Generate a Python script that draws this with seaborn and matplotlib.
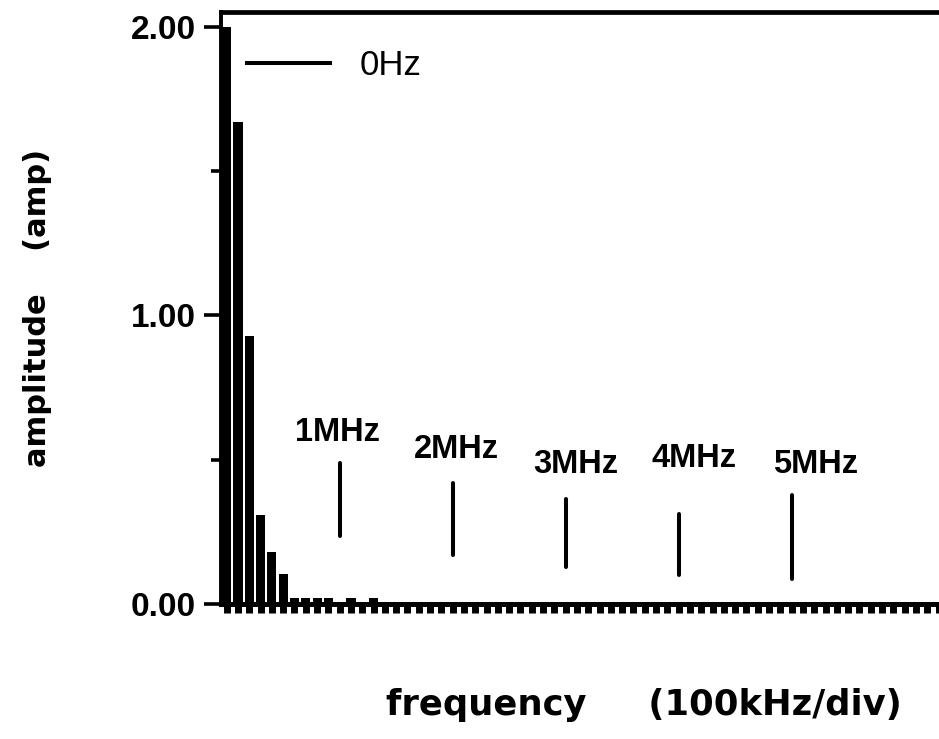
import numpy as np
import pandas as pd
import matplotlib
matplotlib.use("Agg")
import matplotlib.pyplot as plt
import seaborn as sns
from matplotlib.lines import Line2D

# ---------------- data ----------------
freq_div = [0, 1, 2, 3, 4, 5, 6, 7, 8, 9, 10, 11, 12, 13]          # 100 kHz / div
amplitude = [2.00, 1.67, 0.93, 0.31, 0.18, 0.105, 0.02, 0.02, 0.02, 0.02,
             0.0, 0.02, 0.0, 0.02]
marker_freq_div = [10, 20, 30, 40, 50]
marker_labels = ["1MHz", "2MHz", "3MHz", "4MHz", "5MHz"]
marker_low = [0.236, 0.170, 0.128, 0.100, 0.087]
marker_high = [0.489, 0.419, 0.364, 0.312, 0.378]
ytick_values = [0.0, 1.0, 2.0]
ytick_labels = ["0.00", "1.00", "2.00"]
yminor_values = [0.5, 1.5]
legend_label = "0Hz"
xlabel_text = "frequency     (100kHz/div)"
ylabel_text = "amplitude    (amp)"

# ---------------- layout ----------------
label_offsets = [(-0.23, 0.104), (0.3, 0.118), (0.9, 0.121), (1.35, 0.191), (2.1, 0.107)]
XLIM = (-0.5, 63.04)
YLIM = (0.0, 2.052)

df = pd.DataFrame({"freq": freq_div, "amp": amplitude})

fig = plt.figure(figsize=(9.39, 7.39), dpi=100)
ax = fig.add_axes([0.2354, 0.1827, 0.7646, 0.8011])

sns.barplot(data=df, x="freq", y="amp", native_scale=True, color="black",
            saturation=1, width=0.8, errorbar=None, linewidth=0, ax=ax)

ax.vlines(marker_freq_div, marker_low, marker_high, colors="black",
          linewidth=2.9, capstyle="round")

for xm, yh, lab, (dx, dy) in zip(marker_freq_div, marker_high, marker_labels, label_offsets):
    ax.text(xm + dx, yh + dy, lab, ha="center", va="center",
            fontsize=23.5, fontweight="bold", family="Liberation Sans", color="black")

handle = Line2D([], [], color="black", linewidth=2.9)
leg = ax.legend([handle], [legend_label], loc="center left",
                bbox_to_anchor=(0.0362, 0.910), frameon=False,
                borderpad=0, borderaxespad=0, handlelength=2.4,
                handletextpad=0.85,
                prop={"family": "Liberation Sans", "size": 25})

ax.set_xlim(*XLIM)
ax.set_ylim(*YLIM)

ax.set_xticks(np.arange(0, 64))
ax.set_xticklabels([])
ax.set_yticks(ytick_values)
ax.set_yticklabels(ytick_labels)
ax.set_yticks(yminor_values, minor=True)

ax.tick_params(axis="x", which="major", direction="out", length=6.5, width=5.0,
               color="black")
ax.tick_params(axis="y", which="major", direction="out", length=12, width=2.6,
               pad=6, color="black")
ax.tick_params(axis="y", which="minor", direction="out", length=7, width=2.6,
               color="black")
for t in ax.get_yticklabels():
    t.set_fontfamily("Liberation Sans")
    t.set_fontweight("bold")
    t.set_fontsize(24)

ax.spines["right"].set_visible(False)
ax.spines["left"].set_linewidth(2.8)
ax.spines["bottom"].set_linewidth(3.6)
ax.spines["top"].set_linewidth(3.4)

ax.set_xlabel(xlabel_text, fontsize=25.5, fontweight="bold", family="DejaVu Sans")
ax.set_ylabel(ylabel_text, fontsize=22, fontweight="bold", family="DejaVu Sans")
ax.xaxis.set_label_coords(0.589, -0.142)
ax.yaxis.set_label_coords(-0.235, 0.5)

fig.savefig("out.png", dpi=100)
